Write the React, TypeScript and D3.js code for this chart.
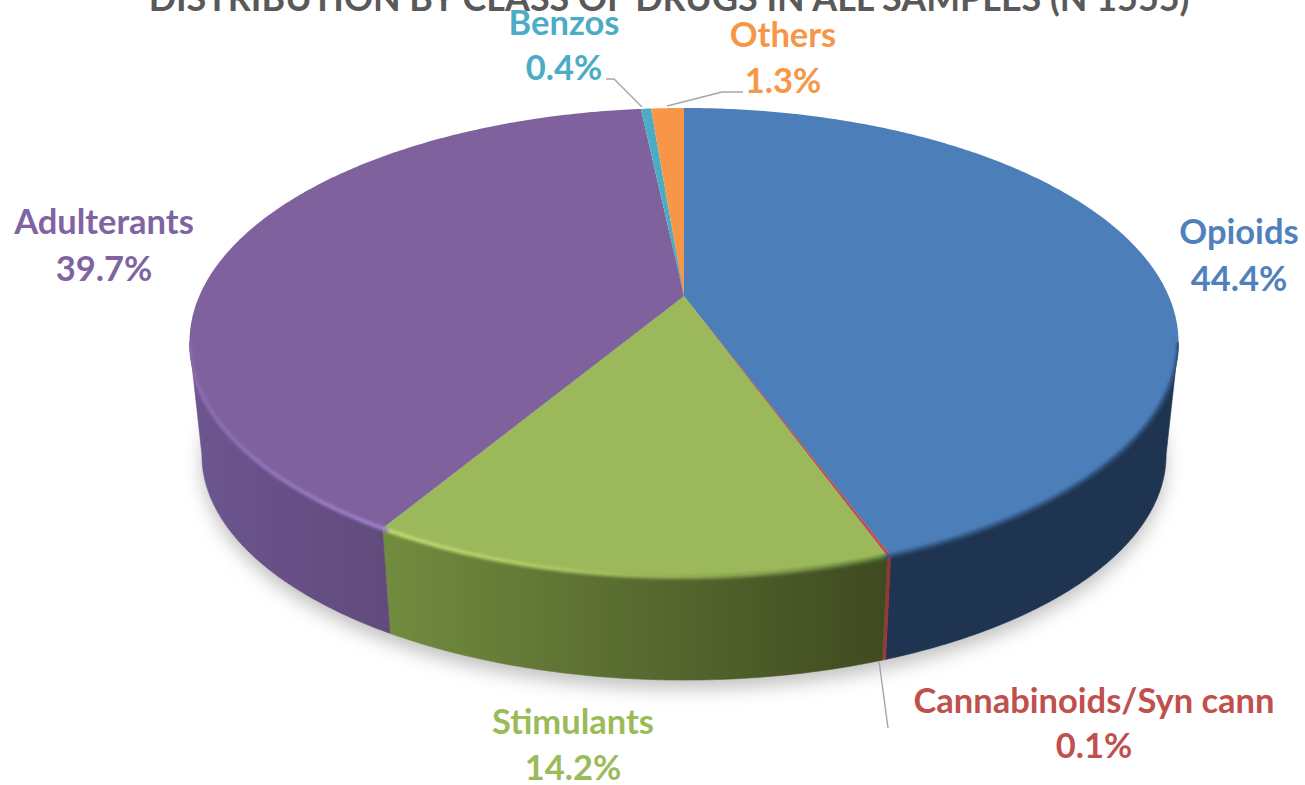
import React from "react";
import * as d3 from "d3";

const categories = ["Opioids", "Cannabinoids/Syn cann", "Stimulants", "Adulterants", "Benzos", "Others"];
const shares = [44.4, 0.1, 14.2, 39.7, 0.4, 1.3];
const topColors = ["#4c7eb9", "#c0504d", "#9bb85a", "#7f619d", "#4bacc6", "#f79646"];
const sideLeft = ["#1e3450", "#a03c3a", "#728c3f", "#6d5590", "#2f7f95", "#b56b2a"];
const sideRight = ["#1e3450", "#8f3432", "#3f4a20", "#614a7b", "#2f7f95", "#b56b2a"];
const labelColors = ["#4f81bd", "#c0504d", "#9bbb59", "#8064a2", "#4bacc6", "#f79646"];
const titleText = "DISTRIBUTION BY CLASS OF DRUGS IN ALL SAMPLES (N 1555)";

const WIDTH = 1305;
const HEIGHT = 785;
const CX = 684;
const TILT = -0.1983;

// The disc faces are circles seen in perspective, so their centre does not sit
// at the middle of the projected ellipse.
const topFace = { d: 484.7, a: 166.6, b: 296 };
const baseFace = { d: 472.5, a: 134.8, b: 410.4 };

type Face = { d: number; a: number; b: number };

function project(face: Face, angle: number, radius = 1): [number, number] {
  const u = Math.sin(angle) * radius;
  const v = -Math.cos(angle) * radius;
  const w = 1 + TILT * v;
  return [CX + (face.d * u) / w, (face.a * v + face.b) / w];
}

function sweep(a0: number, a1: number, step = 0.01): number[] {
  const n = Math.max(2, Math.ceil((a1 - a0) / step));
  return d3.range(n + 1).map((i) => a0 + ((a1 - a0) * i) / n);
}

const line = d3.line<[number, number]>();
const arcs = d3.pie<number>().sort(null).value((d) => d)(shares);

// The wall is visible between the two silhouette points of the disc.
const NEAR_FROM = (101.4 * Math.PI) / 180;
const NEAR_TO = (258.6 * Math.PI) / 180;

function visibleSpan(a0: number, a1: number): [number, number] | null {
  const lo = Math.max(a0, NEAR_FROM);
  const hi = Math.min(a1, NEAR_TO);
  return hi > lo ? [lo, hi] : null;
}

function wedgePath(a0: number, a1: number) {
  const pts = sweep(a0, a1).map((t) => project(topFace, t));
  return line([project(topFace, 0, 0), ...pts]) + "Z";
}

function sidePath(a0: number, a1: number) {
  const angles = sweep(a0, a1);
  const upper = angles.map((t) => project(topFace, t));
  const lower = angles.map((t) => project(baseFace, t)).reverse();
  return line([...upper, ...lower]) + "Z";
}

function rimPath(a0: number, a1: number) {
  return line(sweep(a0, a1).map((t) => project(topFace, t))) ?? "";
}

const whole = sweep(0, Math.PI * 2);
const basePath = line(whole.map((t) => project(baseFace, t))) + "Z";
const bodyPath = line(whole.map((t) => project(topFace, t))) + "Z";
const wallPath = sidePath(NEAR_FROM, NEAR_TO);

const labels = [
  { i: 0, x: 1239, y: [244, 291] },
  { i: 1, x: 1094, y: [713, 758] },
  { i: 2, x: 573, y: [734, 780] },
  { i: 3, x: 104, y: [234, 281] },
  { i: 4, x: 564, y: [35, 80] },
  { i: 5, x: 783, y: [47, 93] },
];

const leaders: [number, number][][] = [
  [[879, 661], [888, 728]],
  [[606, 79], [614, 79], [642, 107]],
  [[743, 92], [722, 92], [667, 106]],
];

// Bevel colours along the near edge, stepped left to right.
const bevelStops: [number, string][] = [
  [0, "#8a6cae"],
  [0.2, "#a282cf"],
  [0.198 + 0.005, "#c2dd72"],
  [0.36, "#aecb64"],
  [0.62, "#748f46"],
  [0.7, "#5c7e3a"],
  [0.705, "#2f5580"],
  [1, "#2c4c74"],
];

export default function App() {
  return (
    <svg
      width={WIDTH}
      height={HEIGHT}
      viewBox={`0 0 ${WIDTH} ${HEIGHT}`}
      style={{ position: "absolute", left: 0, top: 0, background: "#fff", fontFamily: "Lato, 'Open Sans', sans-serif" }}
    >
      <defs>
        <filter id="shadow" x="-10%" y="-10%" width="120%" height="120%">
          <feGaussianBlur stdDeviation="9" />
        </filter>
        <filter id="soft" x="-5%" y="-5%" width="110%" height="110%">
          <feGaussianBlur stdDeviation="1.5" />
        </filter>
        {categories.map((_, i) => (
          <linearGradient key={i} id={`side-${i}`} gradientUnits="objectBoundingBox" x1="0" x2="1" y1="0" y2="0">
            <stop offset="0" stopColor={sideLeft[i]} />
            <stop offset="1" stopColor={sideRight[i]} />
          </linearGradient>
        ))}
        <linearGradient id="bevel" gradientUnits="userSpaceOnUse" x1={189} x2={1178} y1={0} y2={0}>
          {bevelStops.map(([o, c], i) => (
            <stop key={i} offset={o} stopColor={c} />
          ))}
        </linearGradient>
        <clipPath id="disc">
          <path d={bodyPath} />
          <path d={wallPath} />
        </clipPath>
      </defs>

      <text x={669} y={11} textAnchor="middle" fontSize={35.9} fontWeight={700} fill="#595959">
        {titleText}
      </text>

      {/* soft ground shadow below the disc */}
      <path d={basePath} transform="translate(0,9)" fill="#c2c2c2" filter="url(#shadow)" />

      {/* outer wall of the disc */}
      {arcs.map((arc, i) => {
        const span = visibleSpan(arc.startAngle, arc.endAngle);
        return span ? (
          <path key={i} d={sidePath(span[0], span[1])} fill={`url(#side-${i})`} stroke={`url(#side-${i})`} strokeWidth={0.6} />
        ) : null;
      })}

      {/* top face */}
      {arcs.map((arc, i) => (
        <path key={i} d={wedgePath(arc.startAngle, arc.endAngle)} fill={topColors[i]} />
      ))}

      {/* bevel where the top face rolls over into the wall */}
      <g clipPath="url(#disc)">
        <path d={rimPath(NEAR_FROM, NEAR_TO)} fill="none" stroke="url(#bevel)" strokeWidth={4} filter="url(#soft)" />
      </g>

      {leaders.map((pts, i) => (
        <path key={i} d={line(pts) ?? ""} fill="none" stroke="#a6a6a6" strokeWidth={1.4} />
      ))}

      {labels.map((l) => (
        <g key={l.i} textAnchor="middle" fontWeight={700} fontSize={34.5} fill={labelColors[l.i]}>
          <text x={l.x} y={l.y[0]}>{categories[l.i]}</text>
          <text x={l.x} y={l.y[1]}>{shares[l.i].toFixed(1)}%</text>
        </g>
      ))}
    </svg>
  );
}
